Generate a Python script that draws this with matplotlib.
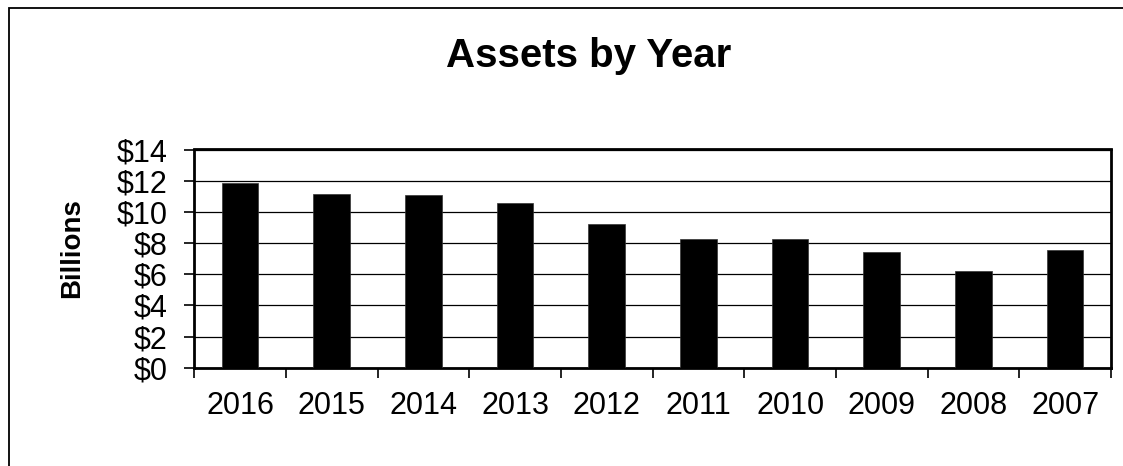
import matplotlib.pyplot as plt
import numpy as np
from matplotlib.patches import Rectangle

plt.rcParams['font.family'] = ['Liberation Sans', 'DejaVu Sans']

years = ['2016', '2015', '2014', '2013', '2012', '2011', '2010', '2009', '2008', '2007']
assets = [11.85, 11.15, 11.05, 10.55, 9.2, 8.27, 8.26, 7.45, 6.22, 7.55]
yticks = [0, 2, 4, 6, 8, 10, 12, 14]

W, H = 1123, 466
fig = plt.figure(figsize=(W / 100, H / 100), dpi=100)
ax = fig.add_axes([194.3 / W, 1 - 367.7 / H, (1111 - 194.3) / W, (367.7 - 149.5) / H])

x = np.arange(len(years))
ax.bar(x, assets, width=0.4, color='black', edgecolor='#333333', linewidth=0.5, zorder=3)

ax.set_xlim(-0.5, len(years) - 0.5)
ax.set_ylim(0, 14)

# boundary ticks (no labels) + centred labels
ax.set_xticks(np.arange(len(years) + 1) - 0.5)
ax.set_xticklabels([])
ax.set_xticks(x, minor=True)
ax.set_xticklabels(years, minor=True, fontsize=22)
ax.tick_params(axis='x', which='major', direction='out', length=7, width=1.2, color='black')
ax.tick_params(axis='x', which='minor', length=0, pad=17)

ax.set_yticks(yticks)
ax.set_yticklabels([f'${v}' for v in yticks], fontsize=22)
ax.tick_params(axis='y', direction='out', length=7, width=1.2, pad=12)

ax.yaxis.grid(True, color='black', linewidth=0.9, zorder=0)
ax.set_axisbelow(True)
for s in ax.spines.values():
    s.set_linewidth(2)
    s.set_color('black')

fig.text(72 / W, 1 - 248 / H, 'Billions', rotation=90, ha='center', va='center',
         fontsize=20, fontweight='bold')
fig.text(589 / W, 1 - 66.7 / H, 'Assets by Year', ha='center', va='baseline',
         fontsize=29, fontweight='bold')

# outer chart border (right/bottom edges fall outside the image)
fig.add_artist(Rectangle((9 / W, -0.1), 1.2, 1.1 - 7.7 / H, transform=fig.transFigure,
                         fill=False, edgecolor='black', linewidth=1.3))

fig.savefig('out.png', dpi=100)
